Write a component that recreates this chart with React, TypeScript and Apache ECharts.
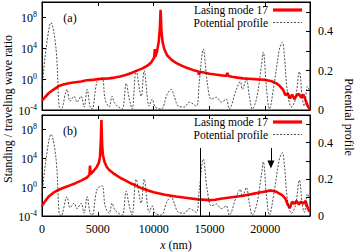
import React, { useEffect, useRef } from 'react';
import * as echarts from 'echarts';

// ---- axes ----
const xMin = 0;
const xMax = 24000;
const xStep = 5000;
const logMin = -4; // left axis, log10 of the ratio
const logMax = 10;
const logStep = 4;
const potMax = 0.55;
const potStep = 0.1;

const seriesNames = ['Lasing mode 17', 'Potential profile'];
const panelLabels = ['(a)', '(b)'];

// ---- potential profile (same in both panels), x in nm ----
const potentialX = [0, 360, 810, 1260, 1530, 1700, 2240, 2510, 2870, 3140, 3500, 3770, 4040, 4310, 4490, 4930, 5380, 5650, 6010, 6280, 6460, 6730, 7180, 7540, 7800, 8070, 8430, 8880, 9150, 9600, 9870, 10140, 10670, 11210, 11570, 11840, 12200, 12740, 13190, 13810, 14080, 14440, 14800, 15160, 15610, 16060, 16500, 16770, 17400, 17760, 17940, 18300, 18570, 18840, 19200, 19640, 19820, 20090, 20360, 20810, 21260, 21530, 21710, 21980, 22340, 22690, 23050, 23320, 23500, 23770, 23950];
const potentialV = [0.11, 0.31, 0.445, 0.31, 0.02, 0.0, 0.105, 0.045, 0.07, 0.04, 0.07, 0.015, 0.105, 0.015, 0.005, 0.145, 0.165, 0.055, 0.015, 0.07, 0.04, 0.02, 0.005, 0.135, 0.06, 0.005, 0.2, 0.07, 0.2, 0.02, 0.055, 0.015, 0.005, 0.08, 0.105, 0.07, 0.02, 0.015, 0.04, 0.02, 0.14, 0.31, 0.14, 0.055, 0.065, 0.04, 0.055, 0.005, 0.105, 0.145, 0.105, 0.155, 0.07, 0.005, 0.055, 0.22, 0.295, 0.12, 0.005, 0.14, 0.31, 0.345, 0.275, 0.09, 0.015, 0.055, 0.195, 0.055, 0.02, 0.12, 0.1];

// ---- panel (a): lasing mode, log10 of standing/traveling wave ratio ----
const modeAX = [0, 300, 600, 1000, 1500, 2000, 2500, 3000, 3500, 4000, 4500, 5000, 5500, 6000, 6500, 7000, 7500, 8000, 8500, 9000, 9500, 9800, 10050, 10100, 10150, 10300, 10450, 10550, 10620, 10700, 10800, 10950, 11200, 11600, 12000, 12500, 13000, 13500, 14000, 14050, 14100, 14500, 15000, 15500, 16000, 16500, 16600, 16700, 17000, 17500, 18000, 18500, 19000, 19500, 20000, 20500, 21000, 21300, 21600, 21800, 22000, 22200, 22400, 22600, 22800, 23000, 23200, 23400, 23600, 23800, 23950];
const modeALog = [-2.8, -2.3, -1.8, -1.4, -0.9, -0.65, -0.5, -0.4, -0.3, -0.15, -0.1, 0.0, 0.05, 0.1, 0.2, 0.35, 0.55, 0.8, 1.1, 1.4, 1.8, 2.2, 2.8, 3.9, 2.9, 3.6, 4.8, 6.5, 9.0, 6.2, 4.8, 3.9, 3.1, 2.5, 2.1, 1.75, 1.45, 1.2, 1.0, 0.55, 0.95, 0.85, 0.7, 0.6, 0.5, 0.4, 0.8, 0.4, 0.3, 0.2, 0.1, 0.05, 0.0, -0.05, -0.1, -0.25, -0.55, -0.9, -1.4, -2.1, -1.8, -2.5, -2.0, -2.6, -2.1, -1.9, -2.4, -2.0, -2.7, -3.5, -3.9];

// ---- panel (b) ----
const modeBX = [0, 300, 600, 1000, 1500, 2000, 2500, 3000, 3500, 4000, 4250, 4300, 4350, 4600, 4900, 5100, 5200, 5270, 5320, 5380, 5450, 5600, 5800, 6000, 6500, 7000, 7500, 8000, 8500, 9000, 9500, 10000, 11000, 12000, 13000, 14000, 15000, 15500, 16000, 17000, 18000, 19000, 19500, 20000, 20500, 21000, 21500, 21800, 22000, 22200, 22400, 22600, 22800, 23000, 23200, 23400, 23600, 23800, 23950];
const modeBLog = [-2.6, -1.9, -1.3, -0.8, -0.35, -0.05, 0.25, 0.55, 0.9, 1.3, 1.7, 3.0, 1.8, 2.2, 2.8, 3.4, 4.3, 6.5, 9.3, 6.0, 4.5, 3.5, 2.8, 2.4, 1.8, 1.3, 0.9, 0.5, 0.15, -0.2, -0.45, -0.7, -1.05, -1.3, -1.5, -1.7, -1.8, -1.75, -1.6, -1.4, -1.2, -0.9, -0.75, -0.6, -0.45, -0.65, -1.1, -1.6, -2.4, -2.9, -2.0, -2.3, -1.9, -2.4, -2.0, -2.3, -1.9, -2.9, -3.4];

// ---- annotations in panel (b) (x in nm, heights on the potential axis) ----
const markerLineX = 14200;
const markerLineTop = 0.37;
const arrowX = 20500;
const arrowFrom = 0.37;
const arrowTo = 0.28;

const FONT = 'Liberation Serif';
const RED = '#ff0000';
const DASH = '#222';

const pair = (xs: number[], ys: number[]) => xs.map((x, i) => [x, ys[i]]);

export default function App() {
  const ref = useRef<HTMLDivElement>(null);

  useEffect(() => {
    document.body.style.margin = '0';
    if (!ref.current) return;
    const chart = echarts.init(ref.current, undefined, { renderer: 'svg' });

    const grids = [
      { left: 42, top: 2, width: 268, height: 108 },
      { left: 42, top: 115, width: 268, height: 101 },
    ];

    const tick = { show: true, inside: true, length: 4, lineStyle: { color: '#000', width: 1 } };
    const line = { show: true, onZero: false, lineStyle: { color: '#000', width: 1 } };

    const xAxes: any[] = [];
    grids.forEach((_, gi) => {
      xAxes.push({
        gridIndex: gi, type: 'value', min: xMin, max: xMax, interval: xStep, position: 'bottom',
        axisLine: line, axisTick: tick, splitLine: { show: false },
        axisLabel: {
          show: gi === 1, showMaxLabel: false, margin: 7,
          fontFamily: FONT, fontSize: 12, color: '#000',
          formatter: (v: number) => (v % xStep === 0 ? String(v) : ''),
        },
      });
      xAxes.push({
        gridIndex: gi, type: 'value', min: xMin, max: xMax, interval: xStep, position: 'top',
        axisLine: line, axisTick: tick, splitLine: { show: false }, axisLabel: { show: false },
      });
    });

    const yAxes: any[] = [];
    grids.forEach((_, gi) => {
      yAxes.push({
        gridIndex: gi, type: 'value', min: logMin, max: logMax, interval: logStep, position: 'left',
        axisLine: line, axisTick: tick, splitLine: { show: false },
        axisLabel: {
          showMaxLabel: false, margin: 5,
          formatter: (v: number) => (v > 8 ? '' : `{b|10}{s|${v}}`),
          rich: {
            b: { fontFamily: FONT, fontSize: 12, color: '#000', lineHeight: 14, verticalAlign: 'bottom' },
            s: { fontFamily: FONT, fontSize: 8, color: '#000', lineHeight: 14, verticalAlign: 'top' },
          },
        },
      });
      yAxes.push({
        gridIndex: gi, type: 'value', min: 0, max: potMax, interval: potStep, position: 'right',
        axisLine: line, axisTick: tick, splitLine: { show: false },
        axisLabel: {
          showMaxLabel: false, margin: 8, fontFamily: FONT, fontSize: 12, color: '#000',
          formatter: (v: number) => {
            const k = Math.round(v * 10);
            return k % 2 === 0 && k <= 4 ? String(k / 10) : '';
          },
        },
      });
    });

    const redStyle = { color: RED, width: 2.6 };
    const dashStyle = { color: DASH, width: 0.8, type: [2, 1.5] as any };

    const series: any[] = [
      {
        name: seriesNames[0], type: 'line', xAxisIndex: 0, yAxisIndex: 0,
        data: pair(modeAX, modeALog), symbol: 'none', lineStyle: redStyle, itemStyle: { color: RED },
      },
      {
        name: seriesNames[1], type: 'line', xAxisIndex: 0, yAxisIndex: 1, smooth: 0.35,
        data: pair(potentialX, potentialV), symbol: 'none', lineStyle: dashStyle, itemStyle: { color: DASH },
      },
      {
        name: seriesNames[0], type: 'line', xAxisIndex: 2, yAxisIndex: 2,
        data: pair(modeBX, modeBLog), symbol: 'none', lineStyle: redStyle, itemStyle: { color: RED },
      },
      {
        name: seriesNames[1], type: 'line', xAxisIndex: 2, yAxisIndex: 3, smooth: 0.35,
        data: pair(potentialX, potentialV), symbol: 'none', lineStyle: dashStyle, itemStyle: { color: DASH },
        markLine: {
          silent: true, animation: false, label: { show: false },
          lineStyle: { color: '#000', width: 1, type: 'solid' },
          data: [
            [{ coord: [markerLineX, 0], symbol: 'none' }, { coord: [markerLineX, markerLineTop], symbol: 'none' }],
            [{ coord: [arrowX, arrowFrom], symbol: 'none' }, { coord: [arrowX, arrowTo], symbol: 'triangle', symbolSize: [7, 8] }],
          ],
        },
      },
    ];

    // key (legend) for each panel: text right-aligned, line sample to its right
    const keyRows = [[10, 22.5], [122, 134.5]];
    const keyText = 268;
    const keyLine = [273, 302];
    const keyGraphics: any[] = [];
    keyRows.forEach((rows) => {
      rows.forEach((y, i) => {
        keyGraphics.push({
          type: 'text', x: keyText, y,
          style: { text: seriesNames[i], fontFamily: FONT, fontSize: 11.5, lineHeight: 12, fill: '#000', align: 'right', verticalAlign: 'middle' },
        });
        keyGraphics.push({
          type: 'line', shape: { x1: keyLine[0], y1: y, x2: keyLine[1], y2: y },
          style: i === 0 ? { stroke: RED, lineWidth: 3.2 } : { stroke: DASH, lineWidth: 0.8, lineDash: [2, 1.5] },
        });
      });
    });

    const option: any = {
      animation: false,
      backgroundColor: '#fff',
      grid: grids.map((g) => ({ ...g, show: true, borderColor: '#000', borderWidth: 1, containLabel: false })),
      xAxis: xAxes,
      yAxis: yAxes,
      series,
      graphic: [
        ...keyGraphics,
        { type: 'text', x: 70, y: 18, style: { text: panelLabels[0], fontFamily: FONT, fontSize: 12, fill: '#000', align: 'center', verticalAlign: 'middle' } },
        { type: 'text', x: 70, y: 131, style: { text: panelLabels[1], fontFamily: FONT, fontSize: 12, fill: '#000', align: 'center', verticalAlign: 'middle' } },
        { type: 'text', x: 8, y: 109, rotation: Math.PI / 2, style: { text: 'Standing / traveling wave ratio', fontFamily: FONT, fontSize: 12, fill: '#000', align: 'center', verticalAlign: 'middle' } },
        { type: 'text', x: 349, y: 117, rotation: -Math.PI / 2, style: { text: 'Potential profile', fontFamily: FONT, fontSize: 12, fill: '#000', align: 'center', verticalAlign: 'middle' } },
        {
          type: 'text', x: 176, y: 245,
          style: {
            text: '{i|x} (nm)', fontFamily: FONT, fontSize: 12, fill: '#000', align: 'center', verticalAlign: 'middle',
            rich: { i: { fontFamily: FONT, fontSize: 12, fontStyle: 'italic', fill: '#000' } },
          },
        },
      ],
    };

    chart.setOption(option);
    return () => chart.dispose();
  }, []);

  return <div ref={ref} style={{ width: 360, height: 252 }} />;
}
